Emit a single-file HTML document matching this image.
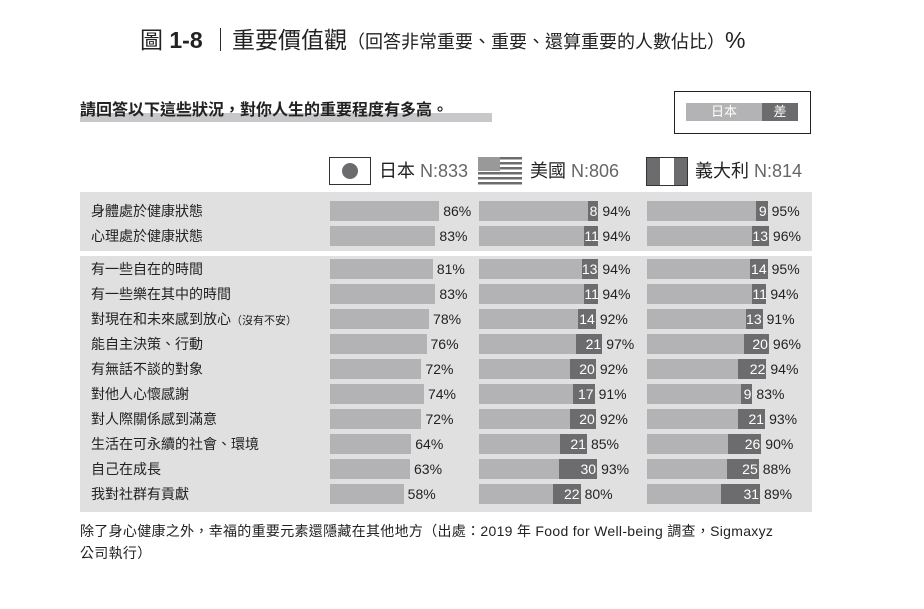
<!DOCTYPE html>
<html><head><meta charset="utf-8"><style>
body{margin:0;width:924px;height:609px;background:#fff;position:relative;overflow:hidden;font-family:"Liberation Sans","Noto Sans CJK TC",sans-serif;color:#222}
.a{position:absolute}
.bar{position:absolute;height:20px;background:#b3b3b5}
.d{position:absolute;height:20px;background:#6c6c6f;color:#fff;font-size:14px;line-height:20px;text-align:right;padding-right:1px;box-sizing:border-box}
.p{position:absolute;font-size:14px;line-height:20px;color:#222}
.lab{position:absolute;left:91px;font-size:14px;line-height:20px;color:#222}
</style></head><body>
<div class="a" style="left:140px;top:25px;font-size:23px;line-height:30px;white-space:nowrap">圖 <b>1-8</b> ｜重要價值觀<span style="font-size:18px">（回答非常重要、重要、還算重要的人數佔比）</span>%</div>
<div class="a" style="left:80px;top:113px;width:412px;height:9px;background:#c8c8ca"></div>
<div class="a" style="left:80px;top:101px;font-size:16px;font-weight:bold;line-height:20px;white-space:nowrap">請回答以下這些狀況，對你人生的重要程度有多高。</div>
<div class="a" style="left:674px;top:91px;width:137px;height:43px;border:1px solid #222;box-sizing:border-box"></div>
<div class="a" style="left:686px;top:103px;width:76px;height:18px;background:#b3b3b5;color:#fff;font-size:13px;line-height:18px;text-align:center">日本</div>
<div class="a" style="left:762px;top:103px;width:36px;height:18px;background:#6c6c6f;color:#fff;font-size:13px;line-height:18px;text-align:center">差</div>
<div class="a" style="left:329px;top:157px;width:42px;height:28px;border:1px solid #333;box-sizing:border-box"></div>
<div class="a" style="left:342px;top:163px;width:16px;height:16px;border-radius:50%;background:#6c6c6f"></div>
<div class="a" style="left:379px;top:160px;font-size:18px;line-height:22px;white-space:nowrap">日本 <span style="color:#666">N:833</span></div>
<svg class="a" style="left:478px;top:157px" width="44" height="30"><g fill="#6c6c6f"><rect y="0" width="44" height="2.5"/><rect y="5" width="44" height="2.5"/><rect y="10" width="44" height="2.5"/><rect y="15" width="44" height="2.5"/><rect y="20" width="44" height="2.5"/><rect y="25" width="44" height="2.5"/></g><rect width="22" height="14" fill="#999"/></svg>
<div class="a" style="left:530px;top:160px;font-size:18px;line-height:22px;white-space:nowrap">美國 <span style="color:#666">N:806</span></div>
<div class="a" style="left:646px;top:157px;width:42px;height:29px;border:1px solid #333;box-sizing:border-box;background:linear-gradient(90deg,#6c6c6f 0 33%,#fff 33% 67%,#6c6c6f 67%)"></div>
<div class="a" style="left:695px;top:160px;font-size:18px;line-height:22px;white-space:nowrap">義大利 <span style="color:#666">N:814</span></div>
<div class="a" style="left:80px;top:192px;width:732px;height:59px;background:#e0e0e1"></div>
<div class="a" style="left:80px;top:256px;width:732px;height:256px;background:#e0e0e1"></div>
<div id="rows"></div>
<div class="a" style="left:80px;top:520px;width:725px;font-size:14px;line-height:22px;letter-spacing:0.3px">除了身心健康之外，幸福的重要元素還隱藏在其他地方（出處：2019 年 Food for Well-being 調查，Sigmaxyz<br>公司執行）</div>
<script>
var d=[["身體處於健康狀態",86,8,94,9,95],["心理處於健康狀態",83,11,94,13,96],
["有一些自在的時間",81,13,94,14,95],["有一些樂在其中的時間",83,11,94,11,94],["對現在和未來感到放心<span style='font-size:11px'>（沒有不安）</span>",78,14,92,13,91],
["能自主決策、行動",76,21,97,20,96],["有無話不談的對象",72,20,92,22,94],["對他人心懷感謝",74,17,91,9,83],
["對人際關係感到滿意",72,20,92,21,93],["生活在可永續的社會、環境",64,21,85,26,90],["自己在成長",63,30,93,25,88],["我對社群有貢獻",58,22,80,31,89]];
var s=1.27,h="";
d.forEach(function(r,i){var y=i<2?201+25*i:259+25*(i-2);
h+='<div class="lab" style="top:'+y+'px">'+r[0]+'</div>';
var w=r[1]*s;h+='<div class="bar" style="left:330px;top:'+y+'px;width:'+w+'px"></div><div class="p" style="left:'+(330+w+4)+'px;top:'+y+'px">'+r[1]+'%</div>';
[[479,r[2],r[3]],[647,r[4],r[5]]].forEach(function(c){var W=c[2]*s,dw=c[1]*s;
h+='<div class="bar" style="left:'+c[0]+'px;top:'+y+'px;width:'+W+'px"></div><div class="d" style="left:'+(c[0]+W-dw)+'px;top:'+y+'px;width:'+dw+'px">'+c[1]+'</div><div class="p" style="left:'+(c[0]+W+4)+'px;top:'+y+'px">'+c[2]+'%</div>';});});
document.getElementById("rows").innerHTML=h;
</script>
</body></html>
